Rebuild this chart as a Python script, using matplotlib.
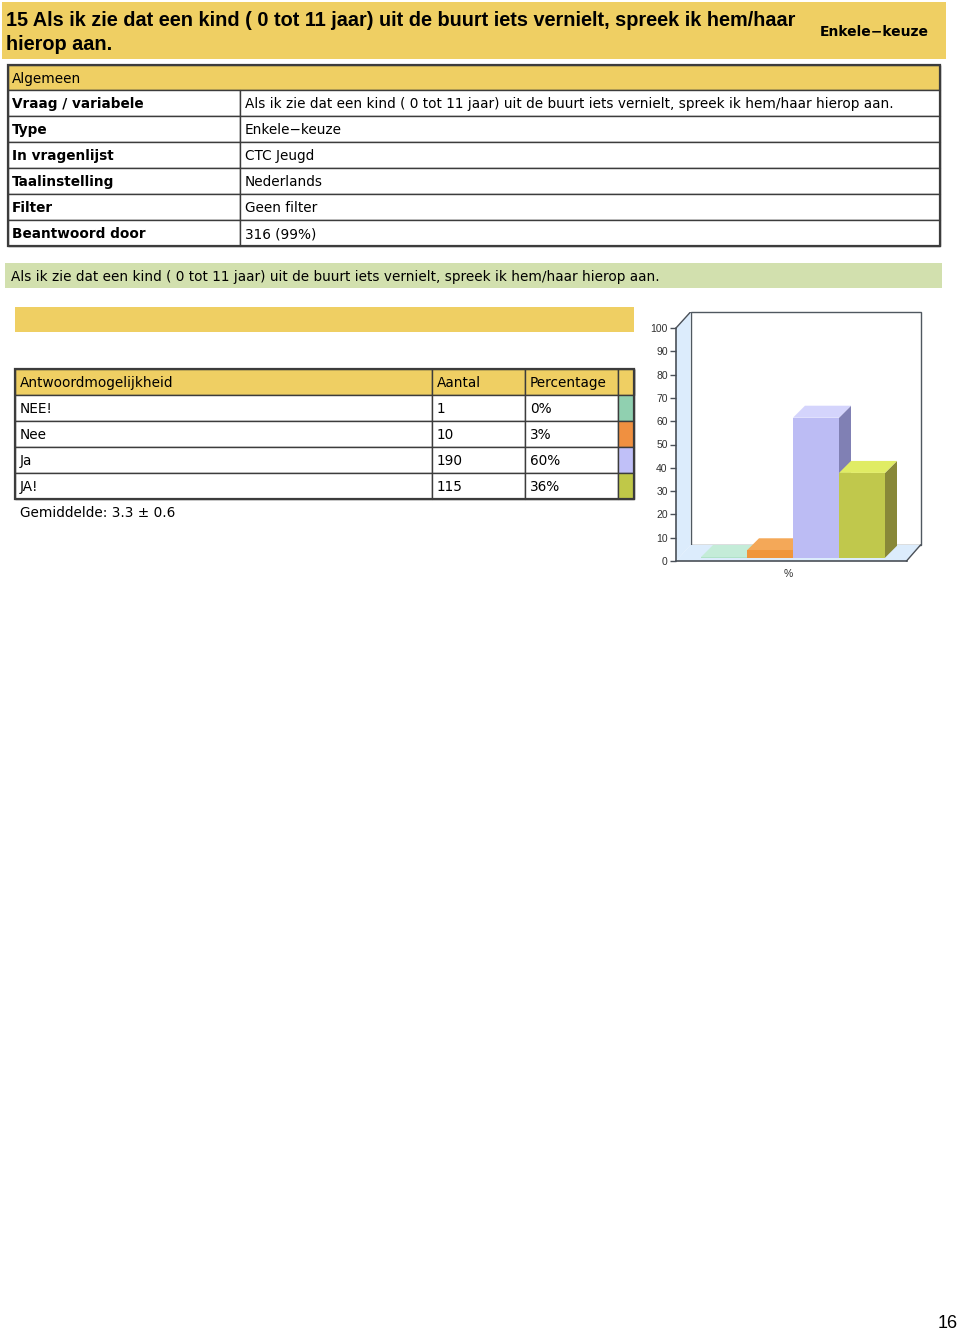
import matplotlib
matplotlib.use('Agg')
import matplotlib.pyplot as plt
from matplotlib.patches import Rectangle, Polygon

# ---------------------------------------------------------------
# DATA
title_lines = ['15 Als ik zie dat een kind ( 0 tot 11 jaar) uit de buurt iets vernielt, spreek ik hem/haar',
               'hierop aan.']
question = 'Als ik zie dat een kind ( 0 tot 11 jaar) uit de buurt iets vernielt, spreek ik hem/haar hierop aan.'
qtype = 'Enkele\u2212keuze'

info_labels = ['Vraag / variabele', 'Type', 'In vragenlijst', 'Taalinstelling', 'Filter', 'Beantwoord door']
info_values = [question, qtype, 'CTC Jeugd', 'Nederlands', 'Geen filter', '316 (99%)']

answer_header = ['Antwoordmogelijkheid', 'Aantal', 'Percentage']
answers = ['NEE!', 'Nee', 'Ja', 'JA!']
counts = ['1', '10', '190', '115']
pct_labels = ['0%', '3%', '60%', '36%']
pct_values = [0.3, 3.2, 60.1, 36.4]
mean_text = 'Gemiddelde: 3.3 \u00b1 0.6'

swatch_colors = ['#90d0b0', '#f09040', '#c0c0f8', '#c0c848']
front_colors = ['#b0e2c8', '#f0963c', '#bcbcf4', '#c0c84c']
top_colors = ['#c4ecd8', '#f4a858', '#d4d4fc', '#e0ec64']
side_colors = ['#80b89c', '#b86c28', '#8080b4', '#888838']

yticks = list(range(0, 101, 10))
page_no = '16'

# ---------------------------------------------------------------
YELLOW = '#efcf63'
GREEN = '#d2e0ae'
BORDER = '#3c3c3c'
TFONT = 9.85

fig = plt.figure(figsize=(9.6, 13.31), dpi=100)
pg = fig.add_axes([0, 0, 1, 1])
pg.set_xlim(0, 960)
pg.set_ylim(1331, 0)
pg.axis('off')


def box(x0, y0, x1, y1, fc='white', ec=BORDER, lw=1.0):
    pg.add_patch(Rectangle((x0, y0), x1 - x0, y1 - y0, facecolor=fc, edgecolor=ec, linewidth=lw))


# header band
box(2, 2, 946, 59, fc=YELLOW, ec='none')
for k, line in enumerate(title_lines):
    pg.text(6, 21 + k * 24, line, fontsize=14.3, fontweight='bold', va='center', ha='left',
            family=['Liberation Sans Narrow', 'Liberation Sans'], color='black')
pg.text(874, 32, qtype, fontsize=10, fontweight='bold', ha='center', va='center', family='DejaVu Sans')

# Algemeen table
box(8, 65, 940, 90, fc=YELLOW)
pg.text(12, 79, 'Algemeen', fontsize=TFONT, va='center')
row_h = 26
for i, (lab, val) in enumerate(zip(info_labels, info_values)):
    y0 = 90 + i * row_h
    box(8, y0, 240, y0 + row_h)
    box(240, y0, 940, y0 + row_h)
    pg.text(12, y0 + 14, lab, fontsize=TFONT, fontweight='bold', va='center')
    pg.text(245, y0 + 14, val, fontsize=TFONT, va='center')
pg.add_patch(Rectangle((8, 65), 932, 90 + 6 * row_h - 65, facecolor='none', edgecolor=BORDER, linewidth=1.6))

# green question band
box(5, 263, 942, 288, fc=GREEN, ec='none')
pg.text(11, 277, question, fontsize=TFONT, va='center')

# yellow band
box(15, 307, 634, 332, fc=YELLOW, ec='none')

# answer table
cols = [15, 432, 525, 618, 634]
y0 = 369
box(15, y0, 634, y0 + 26, fc=YELLOW)
for c in range(3):
    box(cols[c], y0, cols[c + 1], y0 + 26, fc=YELLOW)
    pg.text(cols[c] + 5, y0 + 14, answer_header[c], fontsize=TFONT, va='center')
box(cols[3], y0, cols[4], y0 + 26, fc=YELLOW)
for i in range(len(answers)):
    ya = 395 + i * 26
    cells = [answers[i], counts[i], pct_labels[i]]
    for c in range(3):
        box(cols[c], ya, cols[c + 1], ya + 26)
        pg.text(cols[c] + 5, ya + 14, cells[c], fontsize=TFONT, va='center')
    box(cols[3], ya, cols[4], ya + 26, fc=swatch_colors[i])
pg.add_patch(Rectangle((15, 369), 619, 499 - 369, facecolor='none', edgecolor=BORDER, linewidth=1.6))
pg.text(20, 513, mean_text, fontsize=TFONT, va='center')

pg.text(958, 1323, page_no, fontsize=13, ha='right', va='center', family='Liberation Sans')

# ---------------------------------------------------------------
# 3D-looking bar chart
k = 2.33                      # px per percent
ax_l, ax_r, ax_t, ax_b = 676, 921, 312, 561
W = ax_r - ax_l
H = (ax_b - ax_t) / k
ax = fig.add_axes([ax_l / 960, (1331 - ax_b) / 1331, W / 960, (ax_b - ax_t) / 1331])
ax.set_xlim(0, W)
ax.set_ylim(0, H)
ax.patch.set_alpha(0)
for s in ['top', 'right', 'bottom']:
    ax.spines[s].set_visible(False)
ax.spines['left'].set_bounds(0, 100)
ax.spines['left'].set_color('#4a5058')
ax.spines['left'].set_linewidth(1.2)
ax.set_yticks(yticks)
ax.set_yticklabels([str(t) for t in yticks], fontsize=7.5, color='#303030', family='Liberation Sans')
ax.tick_params(axis='y', length=4, width=1, color='#4a5058', pad=2)
ax.set_xticks([112])
ax.set_xticklabels(['%'], fontsize=7.5, color='#303030', family='Liberation Sans')
ax.tick_params(axis='x', length=0, pad=6)

dx, dy = 14.5, 16 / k
wall = '#dcecfc'
ax.add_patch(Rectangle((dx, dy), W - dx - 0.5, 100, facecolor='white', edgecolor='#505860',
                       linewidth=1.0, zorder=1, clip_on=False))
ax.add_patch(Polygon([(0, 0), (0, 100), (dx, 100 + dy), (dx, dy)], closed=True,
                     facecolor=wall, edgecolor='none', zorder=1))
ax.plot([0, dx], [100, 100 + dy], color='#4a5058', lw=1.0, zorder=3)
ax.add_patch(Polygon([(0, 0), (W - dx, 0), (W - 0.5, dy), (dx, dy)], closed=True,
                     facecolor=wall, edgecolor='none', zorder=1))
ax.plot([0, W - dx], [0, 0], color='#4a5058', lw=1.2, zorder=3, clip_on=False)
ax.plot([W - dx, W - 0.5], [0, dy], color='#4a5058', lw=1.0, zorder=3, clip_on=False)

bw, bx0 = 46, 25
bdx, bdy = 12, 12 / k
base = 1.4
for i, v in enumerate(pct_values):
    x0 = bx0 + i * bw
    top = base + v
    ax.add_patch(Polygon([(x0 + bw, base), (x0 + bw + bdx, base + bdy), (x0 + bw + bdx, top + bdy), (x0 + bw, top)],
                         closed=True, facecolor=side_colors[i], edgecolor='none', zorder=2 + i))
    ax.add_patch(Polygon([(x0, top), (x0 + bdx, top + bdy), (x0 + bw + bdx, top + bdy), (x0 + bw, top)],
                         closed=True, facecolor=top_colors[i], edgecolor='none', zorder=2 + i))
    ax.add_patch(Rectangle((x0, base), bw, v, facecolor=front_colors[i], edgecolor='none', zorder=2 + i))

fig.savefig('out.png', dpi=100)
